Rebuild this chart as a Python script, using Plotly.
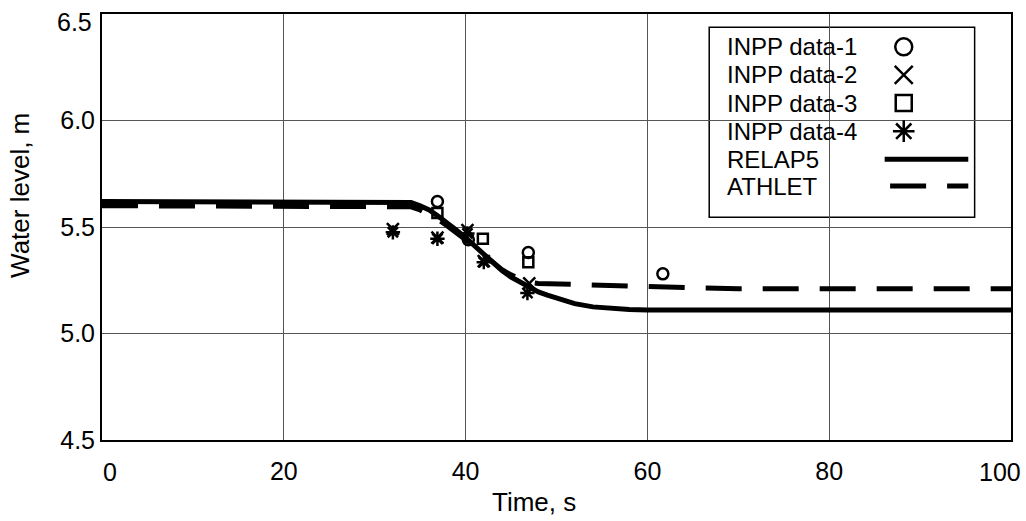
import plotly.graph_objects as go

# ---- data ----
relap_t = [0, 33, 34, 35, 36, 37, 38, 39, 40, 41, 42, 43, 44, 45, 46, 47, 48, 49, 50, 52, 54, 56, 58, 60, 100]
relap_v = [5.62, 5.62, 5.615, 5.60, 5.58, 5.55, 5.52, 5.485, 5.45, 5.41, 5.37, 5.33, 5.295, 5.265,
           5.24, 5.215, 5.195, 5.18, 5.165, 5.14, 5.125, 5.117, 5.113, 5.11, 5.11]

athlet_t = [0, 33, 34, 35, 36, 37, 38, 39, 40, 41, 42, 43, 44, 45, 46, 47, 48, 50, 55, 60, 65, 70, 100]
athlet_v = [5.60, 5.60, 5.595, 5.58, 5.56, 5.535, 5.505, 5.475, 5.44, 5.405, 5.37, 5.335, 5.30,
            5.275, 5.255, 5.24, 5.235, 5.232, 5.228, 5.222, 5.215, 5.21, 5.21]

d1_t = [36.9, 40.3, 46.9, 61.7]
d1_v = [5.62, 5.44, 5.38, 5.28]
d2_t = [32.0, 36.9, 40.2, 42.0, 47.0]
d2_v = [5.49, 5.45, 5.485, 5.34, 5.235]
d3_t = [36.9, 41.9, 46.9]
d3_v = [5.566, 5.445, 5.335]
d4_t = [32.0, 36.9, 40.2, 42.0, 46.8]
d4_v = [5.475, 5.445, 5.47, 5.335, 5.19]

x_ticks = [0, 20, 40, 60, 80, 100]
y_ticks = [4.5, 5.0, 5.5, 6.0, 6.5]

legend_names = ["INPP data-1", "INPP data-2", "INPP data-3", "INPP data-4", "RELAP5", "ATHLET"]

FONT = "Liberation Sans, Arial, sans-serif"
DASH = "36px,21px"
TICKFONT = dict(family=FONT, size=25, color="black")

fig = go.Figure()

fig.add_trace(go.Scatter(x=relap_t, y=relap_v, mode="lines", name="RELAP5",
                         line=dict(color="black", width=5), showlegend=False))
fig.add_trace(go.Scatter(x=athlet_t, y=athlet_v, mode="lines", name="ATHLET",
                         line=dict(color="black", width=5, dash=DASH), showlegend=False))

marker_specs = [
    (d1_t, d1_v, "circle-open", 11),
    (d2_t, d2_v, "x-thin-open", 12),
    (d3_t, d3_v, "square-open", 10),
    (d4_t, d4_v, "asterisk-open", 12),
]
for i, (t, v, sym, sz) in enumerate(marker_specs):
    fig.add_trace(go.Scatter(x=t, y=v, mode="markers", name=legend_names[i], showlegend=False,
                             marker=dict(symbol=sym, size=sz, color="black",
                                         line=dict(color="black", width=2.5))))

# ---- custom legend (text left, symbol right) ----
L_LEFT, L_RIGHT, L_TOP, L_BOT = 0.668, 0.960, 0.969, 0.523
row_y = [0.923, 0.857, 0.791, 0.725, 0.659, 0.596]
sym_x = 0.882
fig.add_shape(type="rect", xref="paper", yref="paper", x0=L_LEFT, x1=L_RIGHT, y0=L_BOT, y1=L_TOP,
              line=dict(color="black", width=1.5), fillcolor="white", layer="between")
for name, yy in zip(legend_names, row_y):
    fig.add_annotation(x=0.685, y=yy, xref="paper", yref="paper", text=name, showarrow=False,
                       xanchor="left", yanchor="middle", font=dict(family=FONT, size=24, color="black"))

for (t, v, sym, sz), yy in zip(marker_specs, row_y[:4]):
    fig.add_trace(go.Scatter(x=[sym_x], y=[yy], xaxis="x2", yaxis="y2", mode="markers",
                             showlegend=False, hoverinfo="skip",
                             marker=dict(symbol=sym, size=sz + 6, color="black",
                                         line=dict(color="black", width=2.5))))
fig.add_trace(go.Scatter(x=[0.861, 0.953], y=[row_y[4], row_y[4]], xaxis="x2", yaxis="y2",
                         mode="lines", showlegend=False, hoverinfo="skip",
                         line=dict(color="black", width=5)))
fig.add_trace(go.Scatter(x=[0.867, 0.953], y=[row_y[5], row_y[5]], xaxis="x2", yaxis="y2",
                         mode="lines", showlegend=False, hoverinfo="skip",
                         line=dict(color="black", width=5, dash=DASH)))

# ---- axis titles as annotations ----
fig.add_annotation(x=0.475, y=-0.1455, xref="paper", yref="paper", text="Time, s", showarrow=False,
                   xanchor="center", yanchor="middle", font=dict(family=FONT, size=26, color="black"))
fig.add_annotation(x=-0.0902, y=0.573, xref="paper", yref="paper", text="Water level, m",
                   showarrow=False, textangle=-90, xanchor="center", yanchor="middle",
                   font=dict(family=FONT, size=26, color="black"))

# ---- edge tick labels (pulled inside the figure, as in the original) ----
fig.add_annotation(x=x_ticks[0], y=0, xref="x", yref="paper", text=str(x_ticks[0]), showarrow=False,
                   xanchor="center", yanchor="top", xshift=8, yshift=-16, font=TICKFONT)
fig.add_annotation(x=x_ticks[-1], y=0, xref="x", yref="paper", text=str(x_ticks[-1]), showarrow=False,
                   xanchor="center", yanchor="top", xshift=-11, yshift=-16, font=TICKFONT)
fig.add_annotation(x=0, y=y_ticks[-1], xref="paper", yref="y", text=f"{y_ticks[-1]:.1f}",
                   showarrow=False, xanchor="right", yanchor="middle", xshift=-8, yshift=-8,
                   font=TICKFONT)

axis_common = dict(showline=True, linecolor="black", linewidth=2, mirror=True,
                   showgrid=True, gridcolor="#555555", gridwidth=1, zeroline=False, ticks="",
                   tickfont=TICKFONT)

mid_x = x_ticks[1:-1]
low_y = y_ticks[:-1]

fig.update_layout(
    width=1026, height=521,
    margin=dict(l=102, r=15, t=14, b=81),
    paper_bgcolor="white", plot_bgcolor="white",
    font=dict(family=FONT, color="black"),
    showlegend=False,
    xaxis=dict(range=[0, 100], tickvals=mid_x, ticktext=[str(v) for v in mid_x],
               ticklabelstandoff=8, **axis_common),
    yaxis=dict(range=[4.5, 6.5], tickvals=low_y, ticktext=[f"{v:.1f}" for v in low_y],
               ticklabeloverflow="allow", **axis_common),
    xaxis2=dict(range=[0, 1], overlaying="x", visible=False, domain=[0, 1]),
    yaxis2=dict(range=[0, 1], overlaying="y", visible=False, domain=[0, 1]),
)

fig.write_html("out.html")
